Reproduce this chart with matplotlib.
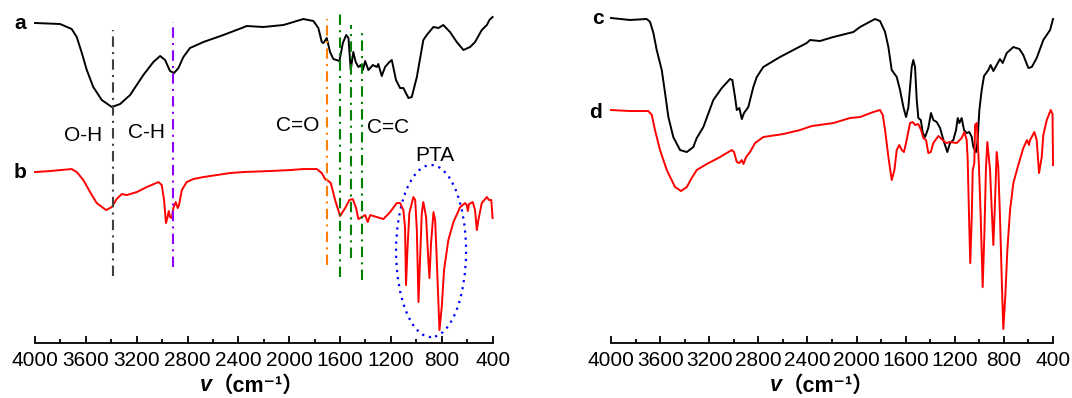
import matplotlib.pyplot as plt
from matplotlib.patches import Ellipse
from matplotlib.ticker import MultipleLocator

# Wavenumbers (cm-1) and transmittance (a.u., curves offset)
a_wn = [4000, 3803, 3712, 3672, 3632, 3593, 3542, 3475, 3396, 3331, 3252, 3148, 3069, 3016,
        2977, 2938, 2906, 2872, 2833, 2781, 2675, 2518, 2374, 2334, 2204, 2046, 1993, 1889,
        1810, 1771, 1744, 1731, 1705, 1679, 1653, 1605, 1578, 1552, 1534, 1516, 1496, 1477,
        1456, 1437, 1421, 1403, 1377, 1342, 1311, 1299, 1272, 1246, 1212, 1193, 1160, 1128,
        1102, 1062, 1036, 996, 945, 918, 866, 826, 788, 735, 682, 629, 577, 538, 485, 445,
        425, 400]
a_t = [317, 316, 311, 303, 287, 270, 253, 240, 233, 236, 245, 265, 278, 284,
       280, 269, 267, 272, 283, 292, 298, 305, 312, 314, 313, 315, 317, 321,
       319, 312, 298, 297, 302, 288, 281, 279, 297, 305, 302, 270, 288, 278,
       273, 275, 270, 279, 270, 275, 273, 276, 264, 273, 278, 280, 260, 252,
       252, 242, 243, 263, 300, 305, 313, 312, 315, 308, 298, 290, 293, 298, 310, 315,
       320, 323]

b_wn = [4000, 3882, 3712, 3672, 3620, 3567, 3515, 3441, 3396, 3358, 3318, 3278, 3199, 3121,
        3029, 3003, 2985, 2970, 2959, 2948, 2938, 2924, 2912, 2893, 2877, 2867, 2845, 2807,
        2755, 2675, 2465, 2361, 2151, 1993, 1889, 1783, 1744, 1718, 1692, 1673, 1639, 1600,
        1560, 1527, 1500, 1474, 1456, 1429, 1403, 1382, 1363, 1311, 1259, 1206, 1154, 1128,
        1102, 1089, 1081, 1070, 1055, 1023, 1009, 996, 983, 971, 957, 945, 923, 910, 897,
        884, 865, 852, 839, 818, 800, 782, 748, 708, 655, 616, 603, 595, 585, 556, 538, 524,
        512, 485, 445, 428, 410, 400]
b_t = [168, 169, 171, 168, 160, 148, 137, 130, 133, 141, 146, 145, 148, 153,
       158, 155, 140, 117, 122, 129, 123, 122, 132, 138, 132, 135, 150, 158,
       161, 163, 167, 168, 169, 170, 171, 171, 167, 161, 159, 157, 140, 124,
       132, 140, 141, 132, 121, 123, 125, 118, 125, 123, 121, 128, 137, 137,
       130, 113, 55, 90, 127, 143, 140, 110, 38, 80, 127, 138, 123, 90, 62,
       97, 128, 120, 80, 10, 33, 70, 100, 118, 133, 137, 135, 129, 136, 138, 130, 110,
       120, 137, 143, 140, 140, 122]

c_wn = [4000, 3845, 3709, 3682, 3655, 3628, 3587, 3560, 3533, 3493, 3438, 3383, 3330, 3302,
        3248, 3167, 3098, 3031, 3012, 2990, 2976, 2955, 2935, 2917, 2882, 2841, 2813, 2760,
        2624, 2406, 2379, 2298, 2189, 2026, 1972, 1850, 1809, 1768, 1741, 1714, 1673, 1646,
        1619, 1597, 1578, 1551, 1538, 1524, 1510, 1497, 1477, 1461, 1442, 1416, 1394, 1375,
        1347, 1320, 1293, 1261, 1239, 1212, 1190, 1176, 1163, 1144, 1125, 1103, 1082, 1062,
        1049, 1027, 1016, 1000, 981, 962, 927, 908, 886, 859, 832, 810, 777, 723, 674, 642,
        601, 573, 533, 479, 424, 400]
c_t = [322, 320, 321, 318, 307, 290, 270, 247, 223, 203, 190, 188, 193, 202,
       213, 240, 252, 261, 260, 243, 230, 232, 221, 227, 233, 253, 263, 273,
       283, 297, 300, 299, 303, 308, 313, 321, 319, 308, 293, 270, 263, 250,
       233, 223, 233, 273, 280, 273, 240, 222, 220, 207, 203, 212, 227, 220,
       218, 212, 200, 188, 197, 200, 210, 222, 217, 222, 210, 207, 208, 203,
       193, 188, 197, 230, 250, 264, 270, 275, 269, 275, 281, 277, 287, 293, 291, 285,
       272, 273, 282, 300, 310, 321]

d_wn = [4000, 3845, 3696, 3668, 3642, 3601, 3546, 3479, 3430, 3383, 3343, 3302, 3221, 3112,
        3017, 2998, 2976, 2955, 2935, 2922, 2900, 2868, 2827, 2760, 2597, 2461, 2365, 2189,
        2053, 1972, 1864, 1809, 1787, 1768, 1741, 1714, 1692, 1673, 1652, 1632, 1614, 1592,
        1565, 1543, 1524, 1497, 1475, 1456, 1434, 1416, 1396, 1375, 1334, 1298, 1271, 1239,
        1184, 1144, 1122, 1103, 1095, 1082, 1074, 1062, 1054, 1041, 1035, 1021, 1003, 989,
        973, 959, 946, 935, 913, 899, 886, 872, 859, 846, 832, 815, 805, 789, 772, 750, 723,
        683, 642, 612, 596, 587, 552, 533, 514, 492, 479, 451, 419, 404, 400]
d_t = [230, 229, 229, 225, 210, 190, 170, 153, 149, 153, 162, 170, 176, 183,
       190, 188, 178, 177, 180, 176, 183, 188, 197, 203, 206, 210, 214, 217,
       222, 223, 228, 230, 225, 210, 183, 160, 170, 190, 195, 190, 188, 200,
       217, 218, 215, 216, 210, 202, 200, 187, 188, 197, 204, 200, 197, 198,
       197, 202, 208, 200, 180, 113, 77, 123, 170, 177, 215, 217, 173, 123,
       53, 107, 173, 198, 170, 130, 95, 140, 188, 173, 123, 50, 11, 43, 90, 130, 157,
       175, 192, 200, 195, 200, 208, 200, 167, 183, 205, 220, 230, 226, 175]

# Band assignments in spectrum a/b: (wavenumber, top, bottom, colour)
band_wn = [3388, 2912, 1705, 1600, 1514, 1429]
band_top = [310, 318, 321, 328, 315, 312]
band_bottom = [64, 73, 75, 63, 82, 60]
band_colors = ['#404040', '#8B00FF', '#FF8000', '#008000', '#008000', '#008000']

band_labels = ['O-H', 'C-H', 'C=O', 'C=C']
band_label_wn = [3618, 3122, 1930, 1222]
band_label_t = [205, 208, 215, 213]

plt.rcParams['font.family'] = ['Liberation Sans', 'Noto Sans CJK SC', 'DejaVu Sans']

fig = plt.figure(figsize=(10.72, 3.98), dpi=100)
ax1 = fig.add_axes([0.0327, 0.138, 0.4268, 0.862])
ax2 = fig.add_axes([0.570, 0.138, 0.4123, 0.862])

for ax in (ax1, ax2):
    ax.set_xlim(4000, 400)
    ax.set_ylim(-3, 340)
    for side in ('left', 'right', 'top'):
        ax.spines[side].set_visible(False)
    ax.spines['bottom'].set_linewidth(1.3)
    ax.set_yticks([])
    ax.xaxis.set_major_locator(MultipleLocator(400))
    ax.xaxis.set_minor_locator(MultipleLocator(200))
    ax.tick_params(axis='x', which='major', direction='in', length=5, width=1.3,
                   labelsize=15, pad=6)
    ax.tick_params(axis='x', which='minor', direction='in', length=3, width=1.3)
    # x label: bold italic v + bold (cm-1)
    ax.text(0.386, -0.125, 'v', transform=ax.transAxes, ha='right', va='center',
            fontsize=15.5, fontweight='bold', fontstyle='italic')
    ax.text(0.386, -0.125, '（cm⁻¹）', transform=ax.transAxes, ha='left', va='center',
            fontsize=15.5, fontweight='bold')

# Left panel
ax1.plot(a_wn, a_t, color='black', lw=1.4)
ax1.plot(b_wn, b_t, color='red', lw=1.4)
for wn, top, bot, col in zip(band_wn, band_top, band_bottom, band_colors):
    ax1.vlines(wn, bot, top, colors=col, lw=1.5, linestyles=(0, (5, 2.5, 1, 2.5)))
for lab, wn, t in zip(band_labels, band_label_wn, band_label_t):
    ax1.text(wn, t, lab, ha='center', va='center', fontsize=15)
ax1.add_patch(Ellipse((884, 89), 551, 172, fill=False, edgecolor='blue', lw=1.6,
                      linestyle=(0, (1, 2.2))))
ax1.text(852, 185, 'PTA', ha='center', va='center', fontsize=15)
ax1.text(4118, 317, 'a', ha='center', va='center', fontsize=15, fontweight='bold')
ax1.text(4118, 168, 'b', ha='center', va='center', fontsize=15, fontweight='bold')

# Right panel
ax2.plot(c_wn, c_t, color='black', lw=1.4)
ax2.plot(d_wn, d_t, color='red', lw=1.4)
ax2.text(4108, 322, 'c', ha='center', va='center', fontsize=15, fontweight='bold')
ax2.text(4130, 228, 'd', ha='center', va='center', fontsize=15, fontweight='bold')

for ax in (ax1, ax2):
    for t in ax.texts + ax.get_lines():
        t.set_clip_on(False)

fig.savefig('out.png', dpi=100)
